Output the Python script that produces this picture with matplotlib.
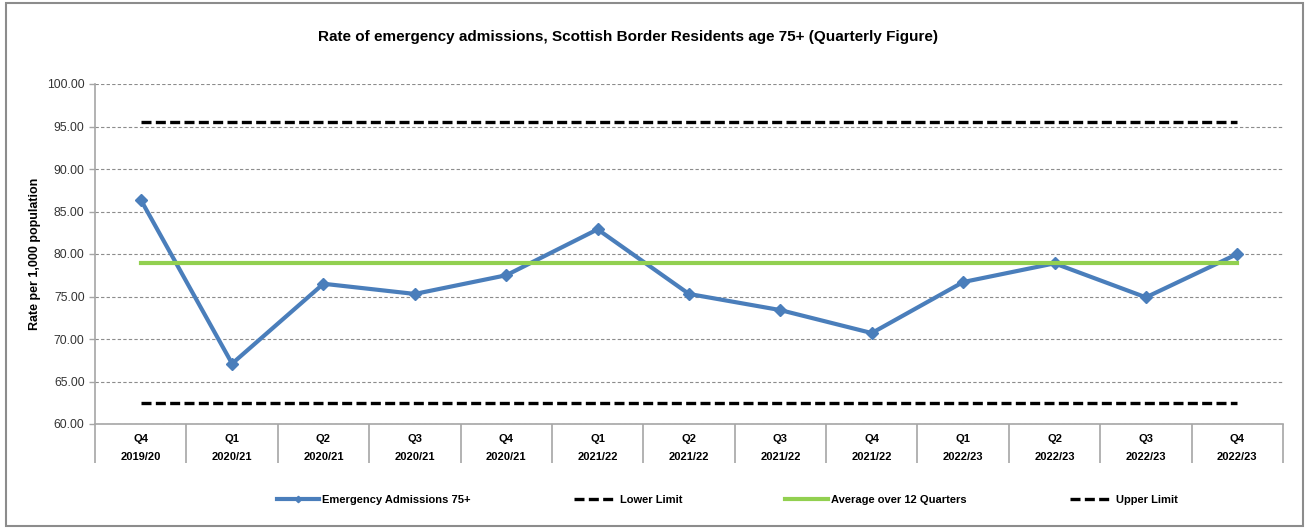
import matplotlib.pyplot as plt
from matplotlib.patches import Rectangle

plt.rcParams['font.family'] = ['Liberation Sans', 'DejaVu Sans']

# Quarter labels and values (rate per 1,000 population)
quarters = ['Q4', 'Q1', 'Q2', 'Q3', 'Q4', 'Q1', 'Q2', 'Q3', 'Q4', 'Q1', 'Q2', 'Q3', 'Q4']
years = ['2019/20', '2020/21', '2020/21', '2020/21', '2020/21', '2021/22', '2021/22',
         '2021/22', '2021/22', '2022/23', '2022/23', '2022/23', '2022/23']
admissions = [86.4, 67.1, 76.5, 75.3, 77.5, 82.9, 75.3, 73.4, 70.7, 76.7, 78.9, 74.9, 80.0]
lower_limit = [62.5] * 13
average_12q = [79.0] * 13
upper_limit = [95.5] * 13

grey = '#a6a6a6'
fig = plt.figure(figsize=(13.09, 5.28), dpi=100)
ax = fig.add_axes([95 / 1309, 1 - 424 / 528, (1283 - 95) / 1309, (424 - 84) / 528])

x = list(range(len(admissions)))
ax.plot(x, admissions, color='#4a7ebb', lw=3, marker='D', markersize=6.5,
        label='Emergency Admissions 75+', zorder=3)
ax.plot(x, lower_limit, color='black', lw=2.4, ls=(0, (3, 1.3)), label='Lower Limit', zorder=4)
ax.plot(x, average_12q, color='#92d050', lw=3, label='Average over 12 Quarters', zorder=4)
ax.plot(x, upper_limit, color='black', lw=2.4, ls=(0, (3, 1.3)), label='Upper Limit', zorder=4)

ax.set_xlim(-0.5, len(x) - 0.5)
ax.set_ylim(60, 100)
ax.set_yticks(range(60, 101, 5))
ax.set_yticklabels([f'{v:.2f}' for v in range(60, 101, 5)], fontsize=8.8, color='#333333')
ax.yaxis.grid(True, color='#8c8c8c', ls=(0, (3, 2)), lw=0.8)
ax.set_axisbelow(True)

ax.set_xticks(x)
ax.set_xticklabels([f'{q}\n{y}' for q, y in zip(quarters, years)], fontsize=8,
                   fontweight='bold', linespacing=2.0)
ax.set_xticks([i - 0.5 for i in range(len(x) + 1)], minor=True)
ax.tick_params(axis='x', which='major', length=0, pad=7)
ax.tick_params(axis='x', which='minor', length=28, width=1.2, color=grey)
ax.tick_params(axis='y', length=4, width=1, color=grey)

for s in ['top', 'right']:
    ax.spines[s].set_visible(False)
for s in ['left', 'bottom']:
    ax.spines[s].set_color(grey)
    ax.spines[s].set_linewidth(1.2)

ax.set_ylabel('Rate per 1,000 population', fontsize=9, fontweight='bold', labelpad=4)

fig.text(0.48, 1 - 37 / 528, 'Rate of emergency admissions, Scottish Border Residents age 75+ (Quarterly Figure)',
         ha='center', va='center', fontsize=11, fontweight='bold')

leg = fig.legend(loc='center', bbox_to_anchor=(727 / 1309, 1 - 500 / 528), ncol=4, frameon=False,
                 prop={'size': 8, 'weight': 'bold'}, handlelength=3.8, handletextpad=0.3,
                 columnspacing=9.3, markerscale=0.5)

fig.patches.append(Rectangle((6 / 1309, 2 / 528), 1297 / 1309, 523 / 528, transform=fig.transFigure,
                             fill=False, edgecolor='#8c8c8c', lw=1.5))

fig.savefig('out.png', dpi=100)
